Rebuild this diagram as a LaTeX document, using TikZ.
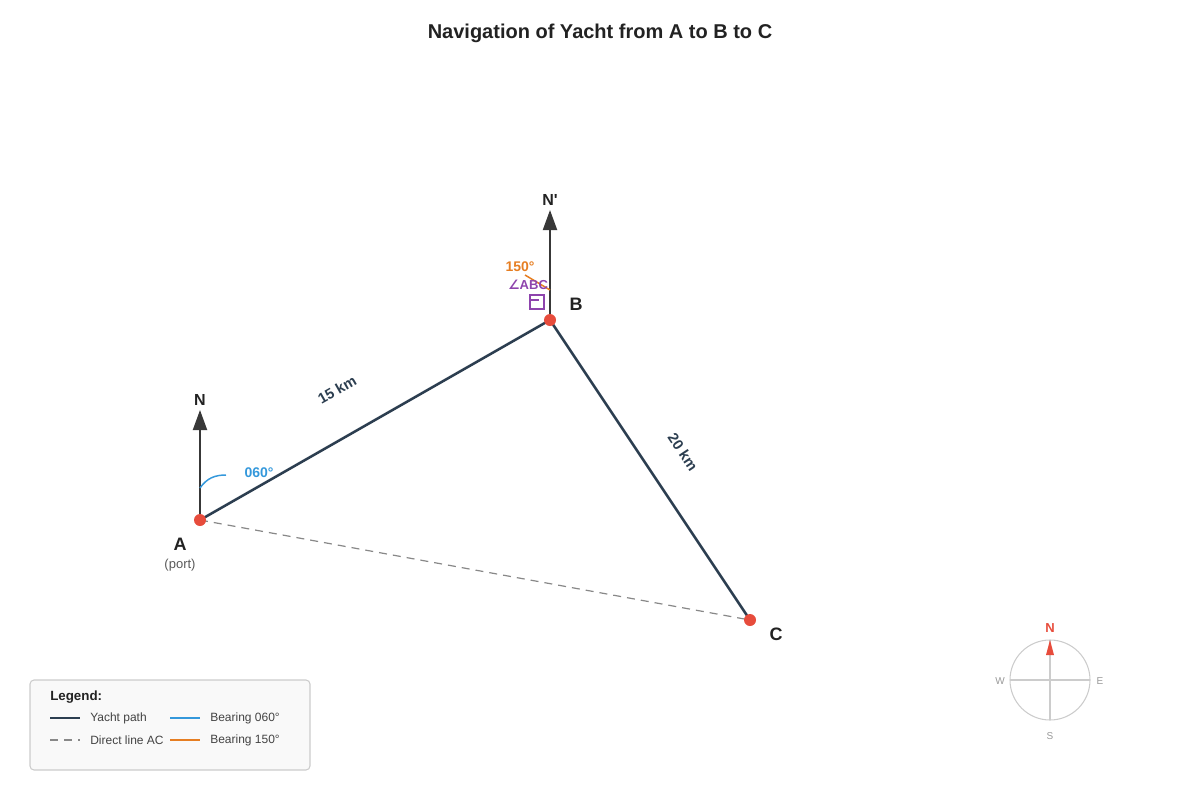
\documentclass[tikz,border=0pt]{standalone}
\usepackage{fontspec}
\setmainfont{Liberation Sans}
\newfontfamily\symfont{DejaVu Sans}
\usetikzlibrary{arrows.meta}
\definecolor{pathc}{HTML}{2C3E50}
\definecolor{ptred}{HTML}{E74C3C}
\definecolor{bblue}{HTML}{3498DB}
\definecolor{borange}{HTML}{E67E22}
\definecolor{apurple}{HTML}{8E44AD}
\definecolor{dgrey}{HTML}{888888}
\definecolor{txt}{HTML}{222222}
\definecolor{lgrey}{HTML}{CCCCCC}
\tikzset{
  yacht/.style={draw=pathc, line width=1.9pt},
  direct/.style={draw=dgrey, line width=0.9pt, dash pattern=on 6pt off 4.5pt},
  northarr/.style={draw=txt!90, line width=1.5pt, -{Triangle[length=15pt,width=10.5pt]}},
  ptdot/.style={circle, fill=ptred, inner sep=0pt, minimum size=9pt},
  ptlabel/.style={font=\bfseries\fontsize{13.5}{16}\selectfont, text=txt},
  dist/.style={font=\bfseries\fontsize{11}{13}\selectfont, text=pathc},
  legtxt/.style={font=\fontsize{9}{11}\selectfont, text=txt!85, anchor=west, inner sep=0pt},
  comptxt/.style={font=\fontsize{7.5}{9}\selectfont, text=gray!80},
}
\begin{document}
\begin{tikzpicture}[x=0.75pt, y=-0.75pt]
\useasboundingbox (0,0) rectangle (1200,800);
\node[font=\bfseries\fontsize{15}{18}\selectfont, text=txt] (title) at (600,33) {Navigation of Yacht from A to B to C};

% points
\coordinate (A) at (200,520);
\coordinate (B) at (550,320);
\coordinate (C) at (750,620);
\coordinate (NA) at (200,410);
\coordinate (NB) at (550,210);

% direct line
\draw[direct] (A) -- (C);
% yacht path
\draw[yacht] (A) -- (B) -- (C);
% north arrows
\draw[northarr] (A) -- (NA);
\draw[northarr] (B) -- (NB);
\node[ptlabel, font=\bfseries\fontsize{12}{14}\selectfont] (nlab) at (200,400) {N};
\node[ptlabel, font=\bfseries\fontsize{12}{14}\selectfont] (nblab) at (550,200) {N\textquotesingle};

% bearing 060
\draw[bblue, line width=1.1pt] (200,488) .. controls (207,478) and (215,475) .. (226,475);
\node[font=\bfseries\fontsize{10.5}{12}\selectfont, text=bblue] (b060) at (259,473) {060°};

% bearing 150
\draw[borange, line width=1.1pt] (525,275) -- (550,290);
\node[font=\bfseries\fontsize{10.5}{12}\selectfont, text=borange] (b150) at (520,267) {150°};
\node[font=\bfseries\fontsize{9.75}{12}\selectfont, text=apurple] (abc) at (528,285) {{\symfont ∠}ABC};
\draw[apurple, line width=0.9pt] (530,295) rectangle (544,309);
\draw[apurple, line width=0.9pt] (531,300) -- (539,300);

% dots
\node[ptdot] (dA) at (A) {};
\node[ptdot] (dB) at (B) {};
\node[ptdot] (dC) at (C) {};
\node[ptlabel] (lA) at (180,544) {A};
\node[font=\fontsize{9.75}{12}\selectfont, text=txt!75] (port) at (180,565) {(port)};
\node[ptlabel] (lB) at (576,304) {B};
\node[ptlabel] (lC) at (776,634) {C};

% distance labels
\node[dist, rotate=29.7] (d15) at (337,390) {15 km};
\node[dist, rotate=-56.3] (d20) at (683,452) {20 km};

% legend
\draw[draw=lgrey, fill=gray!5, rounded corners=3pt, line width=0.8pt] (30,680) rectangle (310,770);
\node[font=\bfseries\fontsize{10}{12}\selectfont, text=txt, anchor=west, inner sep=0pt] (legt) at (50,697) {Legend:};
\draw[pathc, line width=1.9pt] (50,718) -- (80,718);
\node[legtxt] (l1) at (90,718) {Yacht path};
\draw[bblue, line width=1.1pt] (170,718) -- (200,718);
\node[legtxt] (l2) at (210,718) {Bearing 060°};
\draw[direct] (50,740) -- (80,740);
\node[legtxt] (l3) at (90,740) {Direct line AC};
\draw[borange, line width=1.1pt] (170,740) -- (200,740);
\node[legtxt] (l4) at (210,740) {Bearing 150°};

% compass
\draw[lgrey, line width=0.8pt] (1050,680) circle[radius=40];
\draw[lgrey, line width=0.8pt] (1010,680) -- (1090,680);
\draw[lgrey, line width=0.8pt] (1050,640) -- (1050,720);
\fill[ptred] (1050,640) -- (1054,655) -- (1046,655) -- cycle;
\node[font=\bfseries\fontsize{9.75}{12}\selectfont, text=ptred] (cN) at (1050,628) {N};
\node[comptxt] (cW) at (1000,681) {W};
\node[comptxt] (cE) at (1100,681) {E};
\node[comptxt] (cS) at (1050,736) {S};
\end{tikzpicture}
\end{document}
